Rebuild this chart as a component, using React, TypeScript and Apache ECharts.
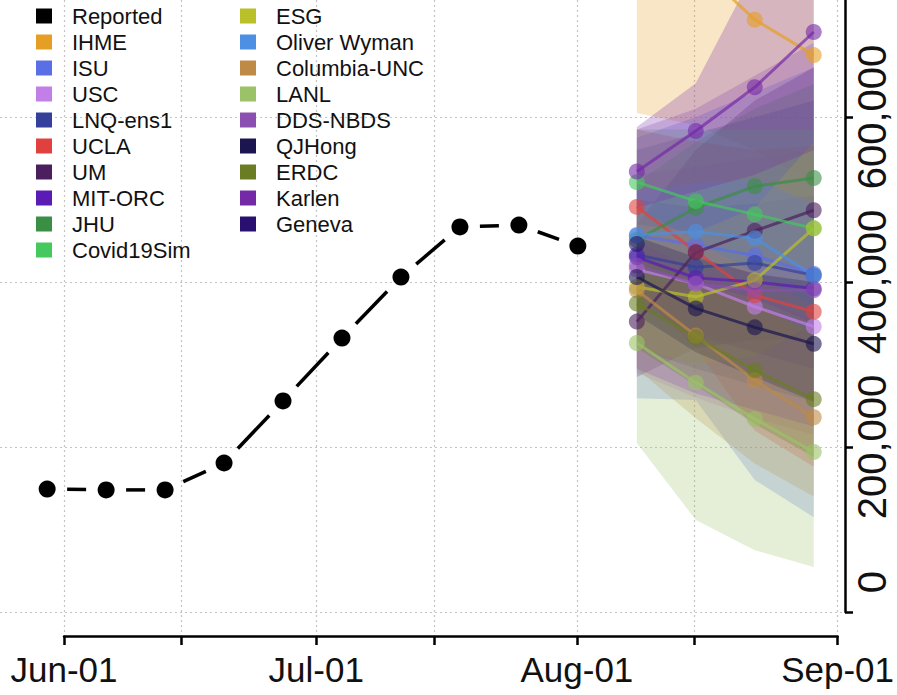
import React, { useEffect, useRef } from 'react';
import * as echarts from 'echarts';

// ---------- data ----------
const reportedDates = ['2020-05-30', '2020-06-06', '2020-06-13', '2020-06-20', '2020-06-27', '2020-07-04', '2020-07-11', '2020-07-18', '2020-07-25', '2020-08-01'];
const reportedValues = [149000, 148000, 148000, 180600, 255800, 332000, 406000, 466700, 469000, 443600];

const forecastDates = ['2020-08-08', '2020-08-15', '2020-08-22', '2020-08-29'];

const modelNames = ['IHME', 'ISU', 'USC', 'LNQ-ens1', 'UCLA', 'UM', 'MIT-ORC', 'JHU', 'Covid19Sim', 'ESG', 'Oliver Wyman', 'Columbia-UNC', 'LANL', 'DDS-NBDS', 'QJHong', 'ERDC', 'Karlen', 'Geneva'];
const modelColors = ['#E69F25', '#5A6EE6', '#C27FE8', '#34409A', '#E0413F', '#4B1F5E', '#5B1BB5', '#3A8F45', '#45C85E', '#B9C02A', '#4C8FE3', '#BE8A46', '#9BC267', '#8A4FB0', '#1B1650', '#6B7D22', '#7429A6', '#291070'];

const forecastMedian: (number | null)[][] = [
  [880000, 785000, 718000, 675000], // IHME
  [456000, 445000, 432000, 410000], // ISU
  [415000, 398000, 370000, 346000], // USC
  [433000, 418000, 423000, 408000], // LNQ-ens1
  [491000, 437000, 384000, 364000], // UCLA
  [352000, 436000, 462000, 487000], // UM
  [430000, 405000, 400000, 392000], // MIT-ORC
  [451000, 490000, 516000, 526000], // JHU
  [521000, 498000, 482000, 465000], // Covid19Sim
  [394000, 382000, 402000, 465000], // ESG
  [457000, 461000, 453000, 408000], // Oliver Wyman
  [390000, 335000, 281000, 236000], // Columbia-UNC
  [326000, 278000, 234000, 194000], // LANL
  [420000, 398000, 390000, 390000], // DDS-NBDS
  [406000, 368000, 345000, 325000], // QJHong
  [374000, 333000, 293000, 258000], // ERDC
  [534000, 583000, 636000, 703000], // Karlen
  [446000, null, null, null],       // Geneva
];
const forecastLower: (number | null)[][] = [
  [605000, 590000, 560000, 520000],
  [259000, 257000, 160000, 115000],
  [290000, 260000, 235000, 215000],
  [320000, 295000, 275000, 255000],
  [390000, 320000, 220000, 176000],
  [285000, 320000, 330000, 330000],
  [370000, 335000, 315000, 295000],
  [390000, 410000, 420000, 420000],
  [450000, 415000, 385000, 355000],
  [320000, 300000, 310000, 350000],
  [410000, 400000, 380000, 330000],
  [295000, 235000, 180000, 140000],
  [205000, 111500, 75000, 54500],
  [295000, 265000, 245000, 225000],
  [360000, 315000, 285000, 255000],
  [320000, 275000, 228000, 188000],
  [490000, 510000, 530000, 560000],
  [380000, null, null, null],
];
const forecastUpper: (number | null)[][] = [
  [1200000, 1300000, 1400000, 1500000],
  [575000, 600000, 630000, 660000],
  [530000, 540000, 550000, 560000],
  [560000, 580000, 600000, 620000],
  [585000, 570000, 560000, 565000],
  [470000, 560000, 620000, 660000],
  [500000, 490000, 495000, 505000],
  [520000, 570000, 610000, 640000],
  [585000, 585000, 585000, 585000],
  [470000, 460000, 490000, 570000],
  [510000, 520000, 525000, 495000],
  [490000, 450000, 410000, 370000],
  [420000, 400000, 380000, 350000],
  [585000, 610000, 650000, 690000],
  [455000, 430000, 410000, 400000],
  [430000, 400000, 370000, 340000],
  [588000, 641000, 778000, 850000],
  [520000, null, null, null],
];

const xTickDates = ['2020-06-01', '2020-06-15', '2020-07-01', '2020-07-15', '2020-08-01', '2020-08-15', '2020-09-01'];
const xLabelDates = ['2020-06-01', '2020-07-01', '2020-08-01', '2020-09-01'];
const xLabelTexts = ['Jun-01', 'Jul-01', 'Aug-01', 'Sep-01'];
const yTickValues = [0, 200000, 400000, 600000];
const yLabelTexts = ['0', '200,000', '400,000', '600,000'];

// ---------- helpers ----------
const BASE = Date.UTC(2020, 5, 1);
const DAY = 86400000;
const dayOf = (s: string) => {
  const [y, m, d] = s.split('-').map(Number);
  return (Date.UTC(y, m - 1, d) - BASE) / DAY;
};
const rgba = (hex: string, a: number) => {
  const n = parseInt(hex.slice(1), 16);
  return `rgba(${(n >> 16) & 255},${(n >> 8) & 255},${n & 255},${a})`;
};

const FONT = '"Liberation Sans", Arial, Helvetica, sans-serif';

// layout (pixels)
const W = 897;
const H = 695;
const AXIS_X_LEFT = 64;
const AXIS_X_RIGHT = 839;
const PLOT_RIGHT = 845;
const PLOT_BOTTOM = 612;
const XAXIS_Y = 636;
const PX_PER_200K = 165;

export default function App() {
  const ref = useRef<HTMLDivElement>(null);

  useEffect(() => {
    if (!ref.current) return;
    const chart = echarts.init(ref.current, undefined, { renderer: 'svg' });

    const lastTick = dayOf(xTickDates[xTickDates.length - 1]);
    const pxPerDay = (AXIS_X_RIGHT - AXIS_X_LEFT) / lastTick;
    const dataMin = -AXIS_X_LEFT / pxPerDay;
    const dataMax = (PLOT_RIGHT - AXIS_X_LEFT) / pxPerDay;
    const yMax = (PLOT_BOTTOM / PX_PER_200K) * 200000;

    const fx = forecastDates.map(dayOf);

    const series: any[] = [];

    // uncertainty bands (polygons through the axes' scales)
    modelNames.forEach((name, i) => {
      const lo = forecastLower[i];
      const hi = forecastUpper[i];
      const pts = fx
        .map((x, k) => [x, lo[k], hi[k]])
        .filter((p) => p[1] != null && p[2] != null) as number[][];
      if (pts.length < 2) return;
      series.push({
        type: 'custom',
        name: name + '-band',
        xAxisIndex: 0,
        yAxisIndex: 0,
        clip: true,
        silent: true,
        z: 1,
        data: [[pts[0][0], pts[0][1]]],
        renderItem: (params: any, api: any) => {
          const up = pts.map((p) => api.coord([p[0], p[2]]));
          const dn = pts.map((p) => api.coord([p[0], p[1]])).reverse();
          return {
            type: 'polygon',
            shape: { points: [...up, ...dn] },
            style: { fill: rgba(modelColors[i], 0.26), stroke: 'none' },
          };
        },
      });
    });

    // model lines + points
    modelNames.forEach((name, i) => {
      const med = forecastMedian[i];
      series.push({
        type: 'line',
        name,
        xAxisIndex: 0,
        yAxisIndex: 0,
        data: fx.map((x, k) => [x, med[k]]).filter((p) => p[1] != null),
        symbol: 'circle',
        symbolSize: 16,
        showSymbol: true,
        color: modelColors[i],
        lineStyle: { color: modelColors[i], width: 3, opacity: 0.7 },
        itemStyle: { color: modelColors[i], opacity: 0.6 },
        z: 3,
      });
    });

    // reported: dashes between points (gap round each point) + dots
    const rx = reportedDates.map(dayOf);
    const segs = rx.slice(0, -1).map((x, k) => [x, reportedValues[k], rx[k + 1], reportedValues[k + 1]]);
    series.push({
      type: 'custom',
      name: 'Reported-line',
      xAxisIndex: 0,
      yAxisIndex: 0,
      data: segs,
      encode: { x: [0, 2], y: [1, 3] },
      silent: true,
      z: 4,
      renderItem: (params: any, api: any) => {
        const p1 = api.coord([api.value(0), api.value(1)]);
        const p2 = api.coord([api.value(2), api.value(3)]);
        const dx = p2[0] - p1[0];
        const dy = p2[1] - p1[1];
        const len = Math.sqrt(dx * dx + dy * dy);
        const gap = 20;
        if (len <= 2 * gap) return null;
        const ux = dx / len;
        const uy = dy / len;
        return {
          type: 'line',
          shape: { x1: p1[0] + ux * gap, y1: p1[1] + uy * gap, x2: p2[0] - ux * gap, y2: p2[1] - uy * gap },
          style: { stroke: '#000', lineWidth: 3.5 },
        };
      },
    });
    series.push({
      type: 'scatter',
      name: 'Reported',
      xAxisIndex: 0,
      yAxisIndex: 0,
      data: rx.map((x, k) => [x, reportedValues[k]]),
      symbol: 'circle',
      symbolSize: 17,
      color: '#000',
      itemStyle: { color: '#000', opacity: 1 },
      z: 5,
    });

    const legendNames = ['Reported', ...modelNames];
    const legendColors = ['#000', ...modelColors];
    const legendItem = (n: string) => ({
      name: n,
      itemStyle: { color: legendColors[legendNames.indexOf(n)], opacity: 1, borderWidth: 0 },
    });
    const legendCommon = {
      orient: 'vertical',
      icon: 'rect',
      itemWidth: 16,
      itemHeight: 15,
      itemGap: 4,
      padding: 0,
      selectedMode: false,
      formatter: (n: string) => '{t|' + n + '}',
      textStyle: {
        rich: { t: { fontFamily: FONT, fontSize: 22, color: '#111', padding: [0, 0, 0, 15] } },
      },
    };

    const xLabelDays = xLabelDates.map(dayOf);
    const gridLine = { show: true, lineStyle: { color: '#c4c4c4', width: 1.2, type: [2, 3] } };

    chart.setOption({
      animation: false,
      backgroundColor: '#fff',
      textStyle: { fontFamily: FONT },
      legend: [
        { ...legendCommon, left: 36, top: 5, data: legendNames.slice(0, 10).map(legendItem) },
        { ...legendCommon, left: 240, top: 5, data: legendNames.slice(10).map(legendItem) },
      ],
      grid: [
        { left: 0, right: W - PLOT_RIGHT, top: 0, bottom: H - PLOT_BOTTOM, containLabel: false },
        { left: AXIS_X_LEFT, right: W - AXIS_X_RIGHT, top: 0, bottom: H - XAXIS_Y, containLabel: false },
      ],
      xAxis: [
        {
          type: 'value',
          gridIndex: 0,
          min: dataMin,
          max: dataMax,
          show: false,
          splitLine: { show: false },
        },
        {
          type: 'value',
          gridIndex: 1,
          min: 0,
          max: lastTick,
          axisLine: { show: true, onZero: false, lineStyle: { color: '#000', width: 2.5 } },
          axisTick: { show: true, length: 9, lineStyle: { color: '#000', width: 2.5 }, customValues: xTickDates.map(dayOf) },
          axisLabel: {
            show: true,
            customValues: xLabelDays,
            formatter: (v: number) => {
              const idx = xLabelDays.findIndex((d) => Math.abs(d - v) < 0.01);
              return idx >= 0 ? xLabelTexts[idx] : '';
            },
            fontFamily: FONT,
            fontSize: 35,
            color: '#111',
            margin: 16,
          },
          splitLine: gridLine,
        },
      ],
      yAxis: [
        {
          type: 'value',
          gridIndex: 0,
          position: 'right',
          min: 0,
          max: yMax,
          axisLine: { show: true, onZero: false, lineStyle: { color: '#000', width: 2.5 } },
          axisTick: { show: true, length: 8, lineStyle: { color: '#000', width: 2.5 }, customValues: yTickValues },
          axisLabel: {
            show: true,
            customValues: yTickValues,
            rotate: 90,
            margin: 10,
            fontFamily: FONT,
            fontSize: 40,
            lineHeight: 34,
            color: '#111',
            formatter: (v: number) => {
              const idx = yTickValues.indexOf(v);
              if (idx < 0) return '';
              return v === 0 ? '{z|' + yLabelTexts[idx] + '}' : yLabelTexts[idx];
            },
            rich: { z: { fontFamily: FONT, fontSize: 40, lineHeight: 34, color: '#111', padding: [0, 0, 0, 60] } },
          },
          splitLine: gridLine,
        },
        { type: 'value', gridIndex: 1, show: false, splitLine: { show: false } },
      ],
      series,
    });

    return () => chart.dispose();
  }, []);

  return <div ref={ref} style={{ position: 'absolute', left: 0, top: 0, width: W, height: H }} />;
}
